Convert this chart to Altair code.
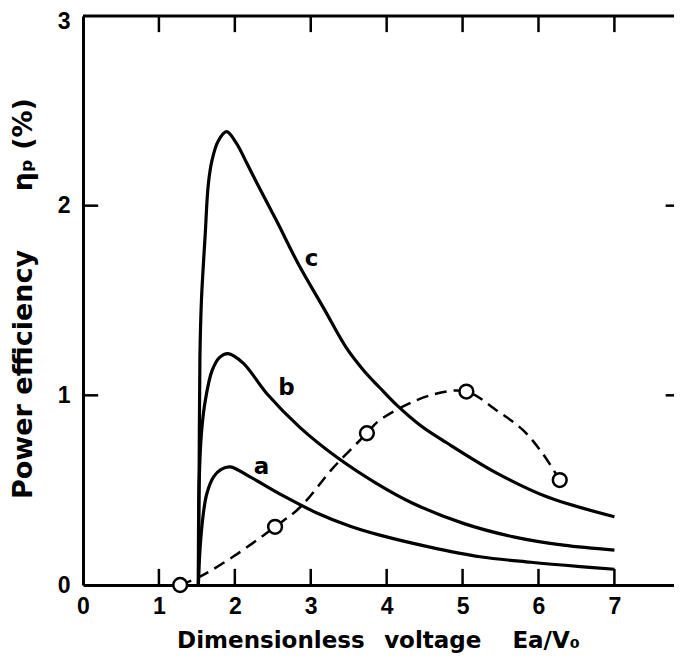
import altair as alt
import pandas as pd

# ---- data ----
c_x = [1.52, 1.53, 1.54, 1.56, 1.61, 1.65, 1.70, 1.78, 1.89, 2.02, 2.15, 2.29, 2.55, 2.84, 3.17, 3.47, 3.70, 3.91, 4.13, 4.45, 4.79, 5.45, 6.11, 7.00]
c_y = [0.0, 0.6, 1.2, 1.5, 1.85, 2.11, 2.24, 2.34, 2.39, 2.33, 2.23, 2.12, 1.92, 1.69, 1.46, 1.25, 1.13, 1.04, 0.95, 0.84, 0.75, 0.59, 0.465, 0.36]

b_x = [1.52, 1.53, 1.56, 1.61, 1.70, 1.80, 1.91, 2.11, 2.42, 2.86, 3.34, 3.87, 4.35, 5.01, 5.67, 6.33, 7.00]
b_y = [0.0, 0.54, 0.80, 0.97, 1.13, 1.20, 1.22, 1.17, 1.01, 0.83, 0.675, 0.535, 0.43, 0.325, 0.254, 0.21, 0.184]

a_x = [1.52, 1.54, 1.58, 1.63, 1.72, 1.82, 1.94, 2.20, 2.64, 3.08, 3.52, 3.91, 4.57, 5.23, 5.90, 6.55, 7.00]
a_y = [0.0, 0.18, 0.36, 0.48, 0.57, 0.61, 0.623, 0.57, 0.47, 0.38, 0.31, 0.263, 0.20, 0.149, 0.12, 0.097, 0.083]

dash_x = [1.28, 1.54, 1.98, 2.53, 2.86, 3.30, 3.74, 3.91, 4.57, 5.05, 5.45, 5.80, 6.06, 6.28]
dash_y = [0.0, 0.044, 0.15, 0.307, 0.41, 0.62, 0.80, 0.87, 1.00, 1.02, 0.92, 0.815, 0.69, 0.553]

circle_x = [1.28, 2.53, 3.74, 5.05, 6.28]
circle_y = [0.0, 0.307, 0.80, 1.02, 0.553]

label_text = ["a", "b", "c"]
label_x = [2.35, 2.68, 3.01]
label_y = [0.62, 1.04, 1.72]

x_ticks = [0, 1, 2, 3, 4, 5, 6, 7]
y_ticks = [0, 1, 2, 3]

X_MAX = 7.785
Y_MAX = 3.0

LABEL_FONT = "Liberation Sans, Arial, sans-serif"
TITLE_FONT = "DejaVu Sans, Liberation Sans, sans-serif"

solid = pd.concat([
    pd.DataFrame({"x": a_x, "y": a_y, "s": "a"}),
    pd.DataFrame({"x": b_x, "y": b_y, "s": "b"}),
    pd.DataFrame({"x": c_x, "y": c_y, "s": "c"}),
], ignore_index=True)
dash = pd.DataFrame({"x": dash_x, "y": dash_y})
circles = pd.DataFrame({"x": circle_x, "y": circle_y})
labels = pd.DataFrame({"t": label_text, "x": label_x, "y": label_y})

xs = alt.Scale(domain=[0, X_MAX], nice=False, zero=False)
ys = alt.Scale(domain=[0, Y_MAX], nice=False, zero=False)

x_enc = alt.X("x:Q", scale=xs, axis=alt.Axis(
    values=x_ticks, format="d", ticks=False, grid=False,
    domainColor="black", domainWidth=3,
    labelFont=LABEL_FONT, labelFontSize=23, labelFontWeight="bold", labelColor="black",
    labelPadding=10, labelFlush=False,
    title="Dimensionless\u2002 voltage\u2003 Ea/V\u2080", titleFont=TITLE_FONT, titleFontSize=23,
    titleFontWeight="bold", titleColor="black", titleX=295, titleY=55,
    titleAlign="center", titleBaseline="middle", titleAnchor="start"))
y_enc = alt.Y("y:Q", scale=ys, axis=alt.Axis(
    values=y_ticks, format="d", ticks=False, grid=False,
    domainColor="black", domainWidth=3,
    labelFont=LABEL_FONT, labelFontSize=23, labelFontWeight="bold", labelColor="black",
    labelPadding=13, labelFlush=False,
    labelOffset={"condition": {"test": "datum.value == 3", "value": 5}, "value": 0},
    title="Power efficiency\u2003\u2003\u2006\u03b7\u209a (%)", titleFont=TITLE_FONT, titleFontSize=27,
    titleFontWeight="bold", titleColor="black", titleX=-60, titleY=282,
    titleAngle=270, titleAlign="center", titleBaseline="middle", titleAnchor="start"))

curves = alt.Chart(solid).mark_line(color="black", strokeWidth=3.2, interpolate="catmull-rom").encode(
    x=x_enc, y=y_enc, detail="s:N")

dashed = alt.Chart(dash).mark_line(color="black", strokeWidth=2.5, strokeDash=[12, 7],
                                    interpolate="catmull-rom").encode(x="x:Q", y="y:Q")

pts = alt.Chart(circles).mark_point(shape="circle", size=190, filled=False, fill="white",
                                    fillOpacity=1, stroke="black", strokeWidth=2.5, opacity=1).encode(
    x="x:Q", y="y:Q")

txt = alt.Chart(labels).mark_text(font=TITLE_FONT, fontSize=23, fontWeight="bold",
                                  color="black").encode(x="x:Q", y="y:Q", text="t:N")

# frame and inward tick marks
tick_len_x = 0.2
tick_len_y = 0.085
rules_df = pd.DataFrame(
    [{"x": v, "x2": v, "y": 0, "y2": tick_len_y} for v in x_ticks[1:]] +
    [{"x": v, "x2": v, "y": Y_MAX, "y2": Y_MAX - tick_len_y} for v in x_ticks[1:]] +
    [{"x": 0, "x2": tick_len_x, "y": v, "y2": v} for v in y_ticks[1:3]] +
    [{"x": X_MAX - 0.11, "x2": X_MAX, "y": v, "y2": v} for v in y_ticks[1:3]]
)
ticks = alt.Chart(rules_df).mark_rule(color="black", strokeWidth=2.5).encode(
    x="x:Q", x2="x2:Q", y="y:Q", y2="y2:Q")

top_df = pd.DataFrame({"x": [0], "x2": [X_MAX], "y": [Y_MAX]})
top = alt.Chart(top_df).mark_rule(color="black", strokeWidth=3).encode(
    x="x:Q", x2="x2:Q", y="y:Q")

chart = alt.layer(curves, dashed, pts, txt, ticks, top).properties(
    width=591, height=569,
    autosize=alt.AutoSizeParams(type="none"),
    padding={"left": 75, "top": 8, "right": 0, "bottom": 70},
).configure_view(stroke=None).configure(background="white")

chart.save("out.html", embed_options={"renderer": "svg", "actions": False})
